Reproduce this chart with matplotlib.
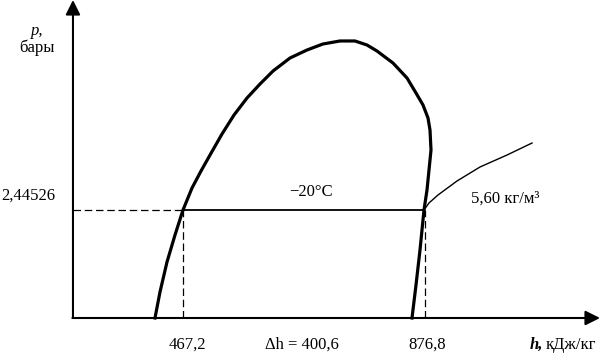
import matplotlib
matplotlib.use("Agg")
import matplotlib.pyplot as plt

plt.rcParams['font.family'] = ['Liberation Serif', 'DejaVu Serif']

# Saturation dome (h in kJ/kg, p in bar)
dome_h = [419.6, 428.1, 440.0, 453.6, 467.2, 482.5, 497.8, 513.1, 533.5, 553.9,
          576.0, 598.1, 620.2, 649.1, 678.0, 705.1, 734.0, 759.5, 779.9, 796.9,
          824.1, 847.9, 863.2, 875.1, 883.6, 887.0, 888.7, 885.3, 881.9, 876.8,
          870.0, 863.2, 856.4]
dome_p = [0.0, 0.589, 1.268, 1.879, 2.445, 2.943, 3.328, 3.690, 4.166, 4.596,
          4.981, 5.298, 5.592, 5.887, 6.068, 6.204, 6.272, 6.272, 6.181, 6.045,
          5.773, 5.434, 5.094, 4.823, 4.528, 4.256, 3.804, 3.351, 2.898, 2.445,
          1.540, 0.747, 0.0]

# Isochore 5.60 kg/m3 in superheated region
iso_h = [876.8, 885.3, 900.6, 932.9, 972.0, 1017.9, 1060.4]
iso_p = [2.445, 2.604, 2.785, 3.102, 3.419, 3.690, 3.962]

p_evap = 2.44526
h_liq = 467.2
h_vap = 876.8
dh = 400.6
h_origin = 280.2

H0, H1 = 156.18, 1175.92
P0, P1 = -0.9057, 7.1999

fig = plt.figure(figsize=(6.0, 3.58), dpi=100)
ax = fig.add_axes([0, 0, 1, 1])
ax.set_xlim(H0, H1)
ax.set_ylim(P0, P1)
ax.axis('off')


def pt(px, py):
    return (H0 + px * (H1 - H0) / 600.0, P1 - py * (P1 - P0) / 358.0)


# axes with arrows
ax.annotate('', xy=(h_origin, P1), xytext=(h_origin, 0),
            arrowprops=dict(arrowstyle='-|>', lw=1.5, color='black',
                            mutation_scale=22, shrinkA=0, shrinkB=0))
ax.annotate('', xy=(H1, 0), xytext=(h_origin - 1, 0),
            arrowprops=dict(arrowstyle='-|>', lw=1.5, color='black',
                            mutation_scale=22, shrinkA=0, shrinkB=0))

# dome
ax.plot(dome_h, dome_p, color='black', lw=2.3, solid_joinstyle='round')
# isotherm
ax.plot([h_liq, h_vap], [p_evap, p_evap], color='black', lw=1.3)
# isochore
ax.plot(iso_h, iso_p, color='black', lw=1.0, solid_joinstyle='round')
# dashed guides
ax.plot([h_origin, h_liq], [p_evap, p_evap], color='black', lw=0.9, dashes=(6, 3))
ax.plot([h_liq, h_liq], [0, p_evap], color='black', lw=0.9, dashes=(6, 3))
ax.plot([h_vap + 1.5, h_vap + 1.5], [0, p_evap], color='black', lw=0.9, dashes=(6, 3))

fs = 12
x, y = pt(28, 196)
ax.text(x, y, '2,44526', fontsize=fs, ha='center', va='center')
x, y = pt(31, 31)
ax.text(x, y, 'p,', fontsize=fs, ha='left', va='center', style='italic')
x, y = pt(37, 48)
ax.text(x, y, 'бары', fontsize=fs, ha='center', va='center')
x, y = pt(311, 192)
ax.text(x, y, '\u221220\u00b0C', fontsize=fs, ha='center', va='center')
x, y = pt(505, 199)
ax.text(x, y, '5,60 кг/м\u00b3', fontsize=fs, ha='center', va='center')
x, y = pt(187, 345)
ax.text(x, y, f'{h_liq:.1f}'.replace('.', ','), fontsize=fs, ha='center', va='center')
x, y = pt(302, 345)
ax.text(x, y, '\u0394h = ' + f'{dh:.1f}'.replace('.', ','), fontsize=fs, ha='center', va='center')
x, y = pt(427, 345)
ax.text(x, y, f'{h_vap:.1f}'.replace('.', ','), fontsize=fs, ha='center', va='center')
x, y = pt(530, 345)
ax.text(x, y, 'h,', fontsize=fs, ha='left', va='center', style='italic', weight='bold')
x, y = pt(546, 345)
ax.text(x, y, 'кДж/кг', fontsize=fs, ha='left', va='center')

fig.savefig('out.png', dpi=100)
